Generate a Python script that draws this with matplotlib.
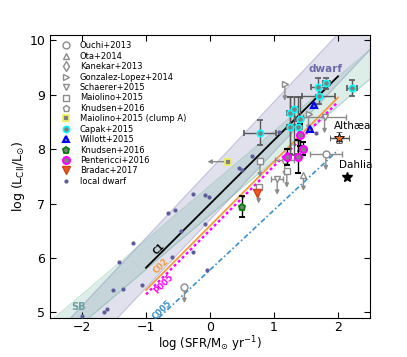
import numpy as np
import matplotlib.pyplot as plt
from matplotlib.lines import Line2D

# ---- data ----
# local dwarfs
dwarf_sfr = [-2.00, -1.66, -1.61, -1.52, -1.36, -1.42, -1.20, -1.07, -0.65, -0.60,
             -0.54, -0.45, -0.27, -0.26, -0.08, -0.02, -0.08, -0.05, 0.46, 0.50,
             0.65, 1.08, 1.65]
dwarf_lcii = [4.94, 5.00, 5.06, 5.41, 5.43, 5.92, 6.27, 5.50, 6.83, 6.01,
              6.88, 6.49, 7.18, 6.11, 7.16, 7.12, 6.62, 5.78, 7.65, 7.62,
              7.88, 8.31, 8.30]

# local relations (slope, intercept, scatter) -> shaded bands
dwarf_rel = (1.25, 7.16, 0.46)
sb_rel = (1.00, 7.06, 0.27)

# model lines (end points)
c1_x, c1_y = [-1.0, 2.0], [5.82, 9.34]
c02_x, c02_y = [-1.0, 2.0], [5.41, 8.95]
p005_x, p005_y = [-1.0, 2.0], [5.33, 8.87]
c005_x, c005_y = [-0.8, 2.0], [4.90, 7.98]

# detections
capak_x = [0.78, 1.25, 1.32, 1.40, 1.25, 1.38, 1.69, 1.82, 1.70, 2.22]
capak_y = [8.30, 8.67, 8.74, 8.56, 8.41, 8.41, 9.15, 9.21, 8.98, 9.13]
capak_xerr = [0.25, 0.05, 0.05, 0.05, 0.05, 0.05, 0.11, 0.06, 0.26, 0.08]
capak_ylo = [0.23, 0.75, 0.85, 0.60, 0.50, 0.50, 0.15, 0.10, 0.15, 0.15]
capak_yhi = [0.23, 0.29, 0.22, 0.40, 0.55, 0.55, 0.15, 0.10, 0.15, 0.15]

pent_x = [1.40, 1.46, 1.21, 1.38]
pent_y = [8.26, 8.01, 7.85, 7.86]
pent_yerr = [0.20, 0.12, 0.15, 0.30]

willott_x = [1.63, 1.56]
willott_y = [8.81, 8.38]

knudsen_x, knudsen_y, knudsen_yerr = [0.50], [6.94], [0.19]
bradac_x, bradac_y = [0.73], [7.19]
clumpA_x, clumpA_y = [0.28], [7.77]
althaea = (2.02, 8.21)
dahlia = (2.14, 7.49)

# upper limits
ouchi_x, ouchi_y, ouchi_xerr = [1.81, -0.40], [7.91, 5.47], [0.25, 0.0]
ota_x, ota_y = [1.46], [7.53]
gonz_x, gonz_y = [1.17, 1.54], [9.19, 8.65]
schaerer_x, schaerer_y, schaerer_xerr = [1.05, 1.79], [7.46, 8.59], [0.09, 0.33]
maiolino_x, maiolino_y = [0.78, 1.20, 0.76], [7.78, 7.59, 7.30]
knud_ul_x, knud_ul_y = [1.17], [7.80]

GREY = '0.55'

fig = plt.figure(figsize=(4.07, 3.57), dpi=100)
ax = fig.add_axes([0.123, 0.11, 0.786, 0.792])

xx = np.array([-2.5, 2.5])
for (m, q, s), col in [(dwarf_rel, '#5a5aa0'), (sb_rel, '#46a082')]:
    ax.fill_between(xx, m * xx + q - s, m * xx + q + s, color=col, alpha=0.18,
                    lw=0, zorder=1)
    ax.plot(xx, m * xx + q - s, color=col, alpha=0.3, lw=0.8, zorder=1)
    ax.plot(xx, m * xx + q + s, color=col, alpha=0.3, lw=0.8, zorder=1)

ax.plot(c1_x, c1_y, color='k', lw=1.3, zorder=3)
ax.plot(c02_x, c02_y, color='#f39a3a', lw=1.3, zorder=3)
ax.plot(p005_x, p005_y, color='#ff00ff', lw=1.7, ls=(0, (1.2, 1.2)), zorder=3)
ax.plot(c005_x, c005_y, color='#3a90c8', lw=1.2, ls=(0, (3, 1.5, 1, 1.5)), zorder=3)

ax.text(-0.80, 6.17, 'C1', rotation=45, fontsize=6, fontweight='bold',
        ha='center', va='center', color='k')
ax.text(-0.76, 5.86, 'C02', rotation=45, fontsize=6, fontweight='bold',
        ha='center', va='center', color='#f39a3a')
ax.text(-0.73, 5.52, 'P005', rotation=45, fontsize=6, fontweight='bold',
        ha='center', va='center', color='#ff00ff')
ax.text(-0.75, 5.05, 'C005', rotation=45, fontsize=6, fontweight='bold',
        ha='center', va='center', color='#3a90c8')
ax.text(1.80, 9.47, 'dwarf', fontsize=7.5, fontweight='bold',
        ha='center', va='center', color='#6a6aa8')
ax.text(-2.06, 5.10, 'SB', fontsize=7, fontweight='bold',
        ha='center', va='center', color='#6aa0a0')

# local dwarfs
ax.plot(dwarf_sfr, dwarf_lcii, 'o', ms=3, color='#5c5c9c', mec='none', zorder=4)


def uplims(x, y, marker, xerr=None, dy=0.3, **kw):
    ax.errorbar(x, y, xerr=xerr, fmt=marker, mfc='white', mec=GREY, ecolor=GREY,
                ms=5, mew=1, elinewidth=1, capsize=2, zorder=5, **kw)
    for xi, yi in zip(x, y):
        ax.annotate('', xy=(xi, yi - dy), xytext=(xi, yi - 0.05),
                    arrowprops=dict(arrowstyle='-|>', color=GREY, lw=1,
                                    mutation_scale=6, shrinkA=0, shrinkB=0),
                    zorder=5)


uplims(ouchi_x, ouchi_y, 'o', xerr=ouchi_xerr)
uplims(ota_x, ota_y, '^')
uplims(gonz_x, gonz_y, '>')
uplims(schaerer_x, schaerer_y, 'v', xerr=schaerer_xerr)
uplims(maiolino_x, maiolino_y, 's')
uplims(knud_ul_x, knud_ul_y, 'p', xerr=[0.15])

# clump A: upper limit on SFR
ax.plot(clumpA_x, clumpA_y, 's', ms=4.5, mfc='0.5', mec='#f0f060', mew=1.3, zorder=6)
ax.annotate('', xy=(clumpA_x[0] - 0.32, clumpA_y[0]), xytext=(clumpA_x[0] - 0.05, clumpA_y[0]),
            arrowprops=dict(arrowstyle='-|>', color=GREY, lw=1, mutation_scale=6,
                            shrinkA=0, shrinkB=0), zorder=5)

ax.errorbar(capak_x, capak_y, xerr=capak_xerr, yerr=[capak_ylo, capak_yhi], fmt='o',
            ms=4.5, mfc='0.5', mec='cyan', mew=1.2, ecolor='0.35', elinewidth=1,
            capsize=2, zorder=6)
ax.errorbar(pent_x, pent_y, yerr=pent_yerr, fmt='o', ms=5, mfc='0.5', mec='#ff00ff',
            mew=1.5, ecolor='k', elinewidth=1, capsize=2, zorder=6)
ax.plot(willott_x, willott_y, '^', ms=5, mfc='0.5', mec='blue', mew=1.5, zorder=6)
ax.errorbar(knudsen_x, knudsen_y, yerr=knudsen_yerr, fmt='p', ms=5, mfc='0.5',
            mec='green', mew=1.3, ecolor='k', elinewidth=1, capsize=2, zorder=6)
ax.plot(bradac_x, bradac_y, 'v', ms=5.5, color='#f05a28', mec='#d04010', zorder=6)

ax.errorbar([althaea[0]], [althaea[1]], xerr=0.15, yerr=0.1, fmt='*', ms=7,
            mfc='#f07020', mec='k', mew=0.6, ecolor='0.3', elinewidth=1, capsize=2, zorder=7)
ax.plot([dahlia[0]], [dahlia[1]], '*', ms=7, color='k', zorder=7)
ax.text(2.23, 8.42, 'Althæa', fontsize=7.5, ha='center', va='center')
ax.text(2.28, 7.71, 'Dahlia', fontsize=7.5, ha='center', va='center')

ax.set_xlim(-2.5, 2.5)
ax.set_ylim(4.9, 10.1)
ax.set_xticks([-2, -1, 0, 1, 2])
ax.set_yticks([5, 6, 7, 8, 9, 10])
ax.tick_params(direction='in', top=True, right=True, labelsize=9, length=4)
ax.tick_params(axis='x', pad=2.5)
ax.set_xlabel(r'log (SFR/M$_{\odot}$ yr$^{-1}$)', fontsize=8.5)
ax.xaxis.set_label_coords(0.5, -0.058)
ax.set_ylabel(r'log (L$_{\rm CII}$/L$_{\odot}$)', fontsize=9, labelpad=2)

handles = [
    Line2D([], [], ls='none', marker='o', mfc='white', mec=GREY, ms=5),
    Line2D([], [], ls='none', marker='^', mfc='white', mec=GREY, ms=5),
    Line2D([], [], ls='none', marker='d', mfc='white', mec=GREY, ms=5),
    Line2D([], [], ls='none', marker='>', mfc='white', mec=GREY, ms=5),
    Line2D([], [], ls='none', marker='v', mfc='white', mec=GREY, ms=5),
    Line2D([], [], ls='none', marker='s', mfc='white', mec=GREY, ms=5),
    Line2D([], [], ls='none', marker='p', mfc='white', mec=GREY, ms=5),
    Line2D([], [], ls='none', marker='s', mfc='0.5', mec='#f0f060', mew=1.3, ms=4.5),
    Line2D([], [], ls='none', marker='o', mfc='0.5', mec='cyan', mew=1.2, ms=4.5),
    Line2D([], [], ls='none', marker='^', mfc='0.5', mec='blue', mew=1.5, ms=5),
    Line2D([], [], ls='none', marker='p', mfc='0.5', mec='green', mew=1.3, ms=5),
    Line2D([], [], ls='none', marker='o', mfc='0.5', mec='#ff00ff', mew=1.5, ms=5),
    Line2D([], [], ls='none', marker='v', color='#f05a28', mec='#d04010', ms=5.5),
    Line2D([], [], ls='none', marker='o', color='#5c5c9c', mec='none', ms=3),
]
labels = ['Ouchi+2013', 'Ota+2014', 'Kanekar+2013', 'Gonzalez-Lopez+2014',
          'Schaerer+2015', 'Maiolino+2015', 'Knudsen+2016', 'Maiolino+2015 (clump A)',
          'Capak+2015', 'Willott+2015', 'Knudsen+2016', 'Pentericci+2016',
          'Bradac+2017', 'local dwarf']
ax.legend(handles, labels, loc='upper left', bbox_to_anchor=(0.02, 0.995),
          frameon=False, fontsize=6, labelspacing=0.17, handlelength=1.0,
          handletextpad=1.2, borderaxespad=0.2)

fig.savefig('out.png', dpi=100)
